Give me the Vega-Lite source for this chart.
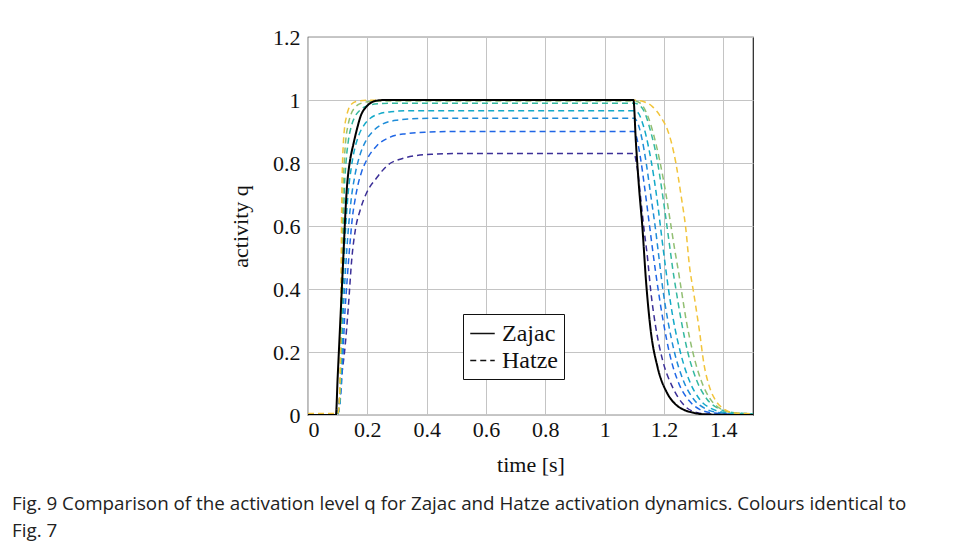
{
  "$schema": "https://vega.github.io/schema/vega-lite/v6.json",
  "width": 445,
  "height": 378,
  "autosize": {"type": "none"},
  "padding": {"left": 308, "top": 37, "right": 202, "bottom": 131},
  "background": "white",
  "config": {
    "view": {"stroke": "#222", "strokeWidth": 1.2},
    "axis": {
      "labelFont": "Liberation Serif", "labelFontSize": 22, "labelColor": "#111",
      "titleFont": "Liberation Serif", "titleFontSize": 22, "titleFontWeight": "normal", "titleColor": "#111",
      "gridColor": "#c4c4c4", "gridWidth": 1, "domain": false, "ticks": false
    }
  },
  "title": {
    "text": ["Fig. 9  Comparison of the activation level q for Zajac and Hatze activation dynamics. Colours identical to", "Fig. 7"],
    "orient": "bottom", "anchor": "start", "frame": "group", "dx": -296, "offset": 20,
    "font": "Open Sans", "fontSize": 18.8, "fontWeight": "normal", "color": "#222", "lineHeight": 27
  },
  "datasets": {
    "curves": [
      {"curve":"z","model":"Zajac","t":0,"q":0},{"curve":"z","model":"Zajac","t":0.094,"q":0},{"curve":"z","model":"Zajac","t":0.1,"q":0.12},{"curve":"z","model":"Zajac","t":0.11,"q":0.32},{"curve":"z","model":"Zajac","t":0.12,"q":0.52},{"curve":"z","model":"Zajac","t":0.126,"q":0.64},{"curve":"z","model":"Zajac","t":0.131,"q":0.72},{"curve":"z","model":"Zajac","t":0.136,"q":0.77},{"curve":"z","model":"Zajac","t":0.142,"q":0.81},{"curve":"z","model":"Zajac","t":0.153,"q":0.86},{"curve":"z","model":"Zajac","t":0.163,"q":0.9},{"curve":"z","model":"Zajac","t":0.178,"q":0.95},{"curve":"z","model":"Zajac","t":0.198,"q":0.98},{"curve":"z","model":"Zajac","t":0.215,"q":0.993},{"curve":"z","model":"Zajac","t":0.232,"q":0.998},{"curve":"z","model":"Zajac","t":0.26,"q":1.0},{"curve":"z","model":"Zajac","t":1.097,"q":1.0},{"curve":"z","model":"Zajac","t":1.105,"q":0.87},{"curve":"z","model":"Zajac","t":1.116,"q":0.72},{"curve":"z","model":"Zajac","t":1.127,"q":0.598},{"curve":"z","model":"Zajac","t":1.139,"q":0.43},{"curve":"z","model":"Zajac","t":1.155,"q":0.27},{"curve":"z","model":"Zajac","t":1.178,"q":0.153},{"curve":"z","model":"Zajac","t":1.211,"q":0.069},{"curve":"z","model":"Zajac","t":1.24,"q":0.033},{"curve":"z","model":"Zajac","t":1.268,"q":0.016},{"curve":"z","model":"Zajac","t":1.3,"q":0.007},{"curve":"z","model":"Zajac","t":1.324,"q":0.003},{"curve":"z","model":"Zajac","t":1.4,"q":0.0005},{"curve":"z","model":"Zajac","t":1.5,"q":0},

      {"curve":"h1","model":"Hatze","t":0,"q":0.002},{"curve":"h1","model":"Hatze","t":0.1,"q":0.002},{"curve":"h1","model":"Hatze","t":0.102,"q":0.016},{"curve":"h1","model":"Hatze","t":0.113,"q":0.12},{"curve":"h1","model":"Hatze","t":0.125,"q":0.217},{"curve":"h1","model":"Hatze","t":0.136,"q":0.344},{"curve":"h1","model":"Hatze","t":0.148,"q":0.5},{"curve":"h1","model":"Hatze","t":0.16,"q":0.59},{"curve":"h1","model":"Hatze","t":0.176,"q":0.651},{"curve":"h1","model":"Hatze","t":0.195,"q":0.7},{"curve":"h1","model":"Hatze","t":0.209,"q":0.725},{"curve":"h1","model":"Hatze","t":0.226,"q":0.746},{"curve":"h1","model":"Hatze","t":0.25,"q":0.775},{"curve":"h1","model":"Hatze","t":0.271,"q":0.795},{"curve":"h1","model":"Hatze","t":0.311,"q":0.812},{"curve":"h1","model":"Hatze","t":0.36,"q":0.823},{"curve":"h1","model":"Hatze","t":0.42,"q":0.828},{"curve":"h1","model":"Hatze","t":0.5,"q":0.83},{"curve":"h1","model":"Hatze","t":1.1,"q":0.83},{"curve":"h1","model":"Hatze","t":1.105,"q":0.81},{"curve":"h1","model":"Hatze","t":1.112,"q":0.77},{"curve":"h1","model":"Hatze","t":1.122,"q":0.683},{"curve":"h1","model":"Hatze","t":1.133,"q":0.587},{"curve":"h1","model":"Hatze","t":1.144,"q":0.503},{"curve":"h1","model":"Hatze","t":1.155,"q":0.397},{"curve":"h1","model":"Hatze","t":1.172,"q":0.28},{"curve":"h1","model":"Hatze","t":1.195,"q":0.175},{"curve":"h1","model":"Hatze","t":1.228,"q":0.09},{"curve":"h1","model":"Hatze","t":1.262,"q":0.037},{"curve":"h1","model":"Hatze","t":1.302,"q":0.01},{"curve":"h1","model":"Hatze","t":1.35,"q":0.003},{"curve":"h1","model":"Hatze","t":1.5,"q":0.001},

      {"curve":"h2","model":"Hatze","t":0,"q":0.003},{"curve":"h2","model":"Hatze","t":0.1,"q":0.003},{"curve":"h2","model":"Hatze","t":0.105,"q":0.02},{"curve":"h2","model":"Hatze","t":0.11,"q":0.06},{"curve":"h2","model":"Hatze","t":0.116,"q":0.15},{"curve":"h2","model":"Hatze","t":0.123,"q":0.3},{"curve":"h2","model":"Hatze","t":0.132,"q":0.43},{"curve":"h2","model":"Hatze","t":0.142,"q":0.55},{"curve":"h2","model":"Hatze","t":0.15,"q":0.63},{"curve":"h2","model":"Hatze","t":0.158,"q":0.68},{"curve":"h2","model":"Hatze","t":0.167,"q":0.725},{"curve":"h2","model":"Hatze","t":0.18,"q":0.77},{"curve":"h2","model":"Hatze","t":0.198,"q":0.81},{"curve":"h2","model":"Hatze","t":0.232,"q":0.855},{"curve":"h2","model":"Hatze","t":0.277,"q":0.882},{"curve":"h2","model":"Hatze","t":0.33,"q":0.893},{"curve":"h2","model":"Hatze","t":0.4,"q":0.898},{"curve":"h2","model":"Hatze","t":0.5,"q":0.9},{"curve":"h2","model":"Hatze","t":1.1,"q":0.9},{"curve":"h2","model":"Hatze","t":1.108,"q":0.88},{"curve":"h2","model":"Hatze","t":1.12,"q":0.82},{"curve":"h2","model":"Hatze","t":1.135,"q":0.72},{"curve":"h2","model":"Hatze","t":1.15,"q":0.61},{"curve":"h2","model":"Hatze","t":1.165,"q":0.5},{"curve":"h2","model":"Hatze","t":1.18,"q":0.4},{"curve":"h2","model":"Hatze","t":1.197,"q":0.3},{"curve":"h2","model":"Hatze","t":1.22,"q":0.19},{"curve":"h2","model":"Hatze","t":1.25,"q":0.1},{"curve":"h2","model":"Hatze","t":1.285,"q":0.045},{"curve":"h2","model":"Hatze","t":1.32,"q":0.018},{"curve":"h2","model":"Hatze","t":1.37,"q":0.006},{"curve":"h2","model":"Hatze","t":1.45,"q":0.002},{"curve":"h2","model":"Hatze","t":1.5,"q":0.001},

      {"curve":"h3","model":"Hatze","t":0,"q":0.003},{"curve":"h3","model":"Hatze","t":0.1,"q":0.003},{"curve":"h3","model":"Hatze","t":0.105,"q":0.02},{"curve":"h3","model":"Hatze","t":0.109,"q":0.06},{"curve":"h3","model":"Hatze","t":0.114,"q":0.17},{"curve":"h3","model":"Hatze","t":0.118,"q":0.3},{"curve":"h3","model":"Hatze","t":0.124,"q":0.42},{"curve":"h3","model":"Hatze","t":0.132,"q":0.54},{"curve":"h3","model":"Hatze","t":0.145,"q":0.68},{"curve":"h3","model":"Hatze","t":0.158,"q":0.76},{"curve":"h3","model":"Hatze","t":0.175,"q":0.825},{"curve":"h3","model":"Hatze","t":0.195,"q":0.87},{"curve":"h3","model":"Hatze","t":0.22,"q":0.902},{"curve":"h3","model":"Hatze","t":0.25,"q":0.923},{"curve":"h3","model":"Hatze","t":0.3,"q":0.936},{"curve":"h3","model":"Hatze","t":0.37,"q":0.941},{"curve":"h3","model":"Hatze","t":0.45,"q":0.942},{"curve":"h3","model":"Hatze","t":1.1,"q":0.942},{"curve":"h3","model":"Hatze","t":1.11,"q":0.93},{"curve":"h3","model":"Hatze","t":1.125,"q":0.88},{"curve":"h3","model":"Hatze","t":1.14,"q":0.8},{"curve":"h3","model":"Hatze","t":1.155,"q":0.7},{"curve":"h3","model":"Hatze","t":1.17,"q":0.6},{"curve":"h3","model":"Hatze","t":1.183,"q":0.5},{"curve":"h3","model":"Hatze","t":1.196,"q":0.4},{"curve":"h3","model":"Hatze","t":1.213,"q":0.3},{"curve":"h3","model":"Hatze","t":1.235,"q":0.2},{"curve":"h3","model":"Hatze","t":1.265,"q":0.11},{"curve":"h3","model":"Hatze","t":1.3,"q":0.05},{"curve":"h3","model":"Hatze","t":1.34,"q":0.02},{"curve":"h3","model":"Hatze","t":1.39,"q":0.007},{"curve":"h3","model":"Hatze","t":1.45,"q":0.003},{"curve":"h3","model":"Hatze","t":1.5,"q":0.002},

      {"curve":"h4","model":"Hatze","t":0,"q":0.003},{"curve":"h4","model":"Hatze","t":0.1,"q":0.003},{"curve":"h4","model":"Hatze","t":0.104,"q":0.02},{"curve":"h4","model":"Hatze","t":0.108,"q":0.06},{"curve":"h4","model":"Hatze","t":0.112,"q":0.16},{"curve":"h4","model":"Hatze","t":0.115,"q":0.3},{"curve":"h4","model":"Hatze","t":0.119,"q":0.43},{"curve":"h4","model":"Hatze","t":0.125,"q":0.56},{"curve":"h4","model":"Hatze","t":0.135,"q":0.7},{"curve":"h4","model":"Hatze","t":0.145,"q":0.78},{"curve":"h4","model":"Hatze","t":0.155,"q":0.835},{"curve":"h4","model":"Hatze","t":0.17,"q":0.885},{"curve":"h4","model":"Hatze","t":0.19,"q":0.922},{"curve":"h4","model":"Hatze","t":0.21,"q":0.942},{"curve":"h4","model":"Hatze","t":0.24,"q":0.956},{"curve":"h4","model":"Hatze","t":0.28,"q":0.963},{"curve":"h4","model":"Hatze","t":0.35,"q":0.966},{"curve":"h4","model":"Hatze","t":1.1,"q":0.966},{"curve":"h4","model":"Hatze","t":1.112,"q":0.96},{"curve":"h4","model":"Hatze","t":1.13,"q":0.92},{"curve":"h4","model":"Hatze","t":1.148,"q":0.85},{"curve":"h4","model":"Hatze","t":1.165,"q":0.76},{"curve":"h4","model":"Hatze","t":1.18,"q":0.66},{"curve":"h4","model":"Hatze","t":1.193,"q":0.56},{"curve":"h4","model":"Hatze","t":1.205,"q":0.47},{"curve":"h4","model":"Hatze","t":1.215,"q":0.4},{"curve":"h4","model":"Hatze","t":1.232,"q":0.3},{"curve":"h4","model":"Hatze","t":1.255,"q":0.2},{"curve":"h4","model":"Hatze","t":1.285,"q":0.11},{"curve":"h4","model":"Hatze","t":1.32,"q":0.05},{"curve":"h4","model":"Hatze","t":1.36,"q":0.02},{"curve":"h4","model":"Hatze","t":1.41,"q":0.008},{"curve":"h4","model":"Hatze","t":1.5,"q":0.003},

      {"curve":"h5","model":"Hatze","t":0,"q":0.004},{"curve":"h5","model":"Hatze","t":0.1,"q":0.004},{"curve":"h5","model":"Hatze","t":0.104,"q":0.02},{"curve":"h5","model":"Hatze","t":0.108,"q":0.07},{"curve":"h5","model":"Hatze","t":0.111,"q":0.17},{"curve":"h5","model":"Hatze","t":0.113,"q":0.3},{"curve":"h5","model":"Hatze","t":0.116,"q":0.45},{"curve":"h5","model":"Hatze","t":0.119,"q":0.58},{"curve":"h5","model":"Hatze","t":0.122,"q":0.7},{"curve":"h5","model":"Hatze","t":0.128,"q":0.8},{"curve":"h5","model":"Hatze","t":0.136,"q":0.87},{"curve":"h5","model":"Hatze","t":0.147,"q":0.92},{"curve":"h5","model":"Hatze","t":0.16,"q":0.95},{"curve":"h5","model":"Hatze","t":0.178,"q":0.97},{"curve":"h5","model":"Hatze","t":0.2,"q":0.982},{"curve":"h5","model":"Hatze","t":0.24,"q":0.988},{"curve":"h5","model":"Hatze","t":0.3,"q":0.99},{"curve":"h5","model":"Hatze","t":1.1,"q":0.99},{"curve":"h5","model":"Hatze","t":1.115,"q":0.985},{"curve":"h5","model":"Hatze","t":1.135,"q":0.96},{"curve":"h5","model":"Hatze","t":1.155,"q":0.9},{"curve":"h5","model":"Hatze","t":1.175,"q":0.82},{"curve":"h5","model":"Hatze","t":1.192,"q":0.72},{"curve":"h5","model":"Hatze","t":1.207,"q":0.62},{"curve":"h5","model":"Hatze","t":1.22,"q":0.53},{"curve":"h5","model":"Hatze","t":1.23,"q":0.46},{"curve":"h5","model":"Hatze","t":1.24,"q":0.4},{"curve":"h5","model":"Hatze","t":1.258,"q":0.3},{"curve":"h5","model":"Hatze","t":1.28,"q":0.2},{"curve":"h5","model":"Hatze","t":1.31,"q":0.11},{"curve":"h5","model":"Hatze","t":1.345,"q":0.05},{"curve":"h5","model":"Hatze","t":1.385,"q":0.02},{"curve":"h5","model":"Hatze","t":1.43,"q":0.008},{"curve":"h5","model":"Hatze","t":1.5,"q":0.004},

      {"curve":"h6","model":"Hatze","t":0,"q":0.004},{"curve":"h6","model":"Hatze","t":0.1,"q":0.004},{"curve":"h6","model":"Hatze","t":0.104,"q":0.02},{"curve":"h6","model":"Hatze","t":0.107,"q":0.07},{"curve":"h6","model":"Hatze","t":0.11,"q":0.17},{"curve":"h6","model":"Hatze","t":0.112,"q":0.3},{"curve":"h6","model":"Hatze","t":0.114,"q":0.45},{"curve":"h6","model":"Hatze","t":0.116,"q":0.58},{"curve":"h6","model":"Hatze","t":0.118,"q":0.7},{"curve":"h6","model":"Hatze","t":0.122,"q":0.8},{"curve":"h6","model":"Hatze","t":0.127,"q":0.87},{"curve":"h6","model":"Hatze","t":0.135,"q":0.92},{"curve":"h6","model":"Hatze","t":0.145,"q":0.955},{"curve":"h6","model":"Hatze","t":0.16,"q":0.978},{"curve":"h6","model":"Hatze","t":0.18,"q":0.99},{"curve":"h6","model":"Hatze","t":0.21,"q":0.995},{"curve":"h6","model":"Hatze","t":0.26,"q":0.997},{"curve":"h6","model":"Hatze","t":1.1,"q":0.997},{"curve":"h6","model":"Hatze","t":1.12,"q":0.99},{"curve":"h6","model":"Hatze","t":1.145,"q":0.95},{"curve":"h6","model":"Hatze","t":1.165,"q":0.89},{"curve":"h6","model":"Hatze","t":1.185,"q":0.81},{"curve":"h6","model":"Hatze","t":1.205,"q":0.71},{"curve":"h6","model":"Hatze","t":1.222,"q":0.61},{"curve":"h6","model":"Hatze","t":1.237,"q":0.52},{"curve":"h6","model":"Hatze","t":1.248,"q":0.46},{"curve":"h6","model":"Hatze","t":1.258,"q":0.4},{"curve":"h6","model":"Hatze","t":1.275,"q":0.3},{"curve":"h6","model":"Hatze","t":1.297,"q":0.2},{"curve":"h6","model":"Hatze","t":1.325,"q":0.11},{"curve":"h6","model":"Hatze","t":1.358,"q":0.048},{"curve":"h6","model":"Hatze","t":1.39,"q":0.02},{"curve":"h6","model":"Hatze","t":1.414,"q":0.01},{"curve":"h6","model":"Hatze","t":1.45,"q":0.006},{"curve":"h6","model":"Hatze","t":1.5,"q":0.004},

      {"curve":"h7","model":"Hatze","t":0,"q":0.005},{"curve":"h7","model":"Hatze","t":0.1,"q":0.005},{"curve":"h7","model":"Hatze","t":0.104,"q":0.02},{"curve":"h7","model":"Hatze","t":0.107,"q":0.08},{"curve":"h7","model":"Hatze","t":0.109,"q":0.18},{"curve":"h7","model":"Hatze","t":0.11,"q":0.3},{"curve":"h7","model":"Hatze","t":0.112,"q":0.5},{"curve":"h7","model":"Hatze","t":0.114,"q":0.7},{"curve":"h7","model":"Hatze","t":0.116,"q":0.79},{"curve":"h7","model":"Hatze","t":0.119,"q":0.86},{"curve":"h7","model":"Hatze","t":0.123,"q":0.91},{"curve":"h7","model":"Hatze","t":0.129,"q":0.945},{"curve":"h7","model":"Hatze","t":0.137,"q":0.972},{"curve":"h7","model":"Hatze","t":0.148,"q":0.988},{"curve":"h7","model":"Hatze","t":0.165,"q":0.996},{"curve":"h7","model":"Hatze","t":0.2,"q":0.999},{"curve":"h7","model":"Hatze","t":1.1,"q":0.999},{"curve":"h7","model":"Hatze","t":1.13,"q":0.995},{"curve":"h7","model":"Hatze","t":1.161,"q":0.979},{"curve":"h7","model":"Hatze","t":1.195,"q":0.937},{"curve":"h7","model":"Hatze","t":1.212,"q":0.905},{"curve":"h7","model":"Hatze","t":1.24,"q":0.8},{"curve":"h7","model":"Hatze","t":1.257,"q":0.7},{"curve":"h7","model":"Hatze","t":1.274,"q":0.587},{"curve":"h7","model":"Hatze","t":1.285,"q":0.48},{"curve":"h7","model":"Hatze","t":1.302,"q":0.376},{"curve":"h7","model":"Hatze","t":1.319,"q":0.27},{"curve":"h7","model":"Hatze","t":1.335,"q":0.16},{"curve":"h7","model":"Hatze","t":1.353,"q":0.09},{"curve":"h7","model":"Hatze","t":1.375,"q":0.045},{"curve":"h7","model":"Hatze","t":1.392,"q":0.026},{"curve":"h7","model":"Hatze","t":1.415,"q":0.012},{"curve":"h7","model":"Hatze","t":1.437,"q":0.006},{"curve":"h7","model":"Hatze","t":1.5,"q":0.004}
    ]
  },
  "data": {"name": "curves"},
  "encoding": {
    "x": {"field": "t", "type": "quantitative", "title": "time [s]",
      "scale": {"domain": [0, 1.5], "nice": false, "zero": false},
      "axis": {"values": [0, 0.2, 0.4, 0.6, 0.8, 1, 1.2, 1.4], "format": "~g", "labelPadding": 4, "titlePadding": 14}},
    "y": {"field": "q", "type": "quantitative", "title": "activity q",
      "scale": {"domain": [0, 1.2], "nice": false},
      "axis": {"values": [0, 0.2, 0.4, 0.6, 0.8, 1, 1.2], "format": "~g", "labelPadding": 8, "titlePadding": 20}},
    "strokeDash": {"field": "model", "type": "nominal",
      "scale": {"domain": ["Zajac", "Hatze"], "range": [[1, 0], [6, 4]]},
      "legend": {"title": null, "orient": "none", "legendX": 155, "legendY": 277,
        "strokeColor": "#111", "fillColor": "white", "padding": 6,
        "labelFont": "Liberation Serif", "labelFontSize": 24, "labelColor": "#111",
        "symbolType": "stroke", "symbolStrokeColor": "#111", "symbolStrokeWidth": 1.6, "symbolSize": 600,
        "rowPadding": 1, "labelOffset": 6}}
  },
  "layer": [
    {
      "transform": [{"filter": "datum.model == 'Hatze'"}],
      "mark": {"type": "line", "strokeWidth": 1.5, "interpolate": "monotone", "clip": true},
      "encoding": {
        "color": {"field": "curve", "type": "nominal", "legend": null,
          "scale": {"domain": ["h1", "h2", "h3", "h4", "h5", "h6", "h7"],
            "range": ["#3b2f97", "#1f66e5", "#1e8cd8", "#12a9c8", "#33b8a0", "#92bf73", "#f2c43a"]}}
      }
    },
    {
      "transform": [{"filter": "datum.model == 'Zajac'"}],
      "mark": {"type": "line", "strokeWidth": 2, "color": "black", "interpolate": "monotone", "clip": true},
      "encoding": {"detail": {"field": "curve", "type": "nominal"}}
    }
  ]
}
